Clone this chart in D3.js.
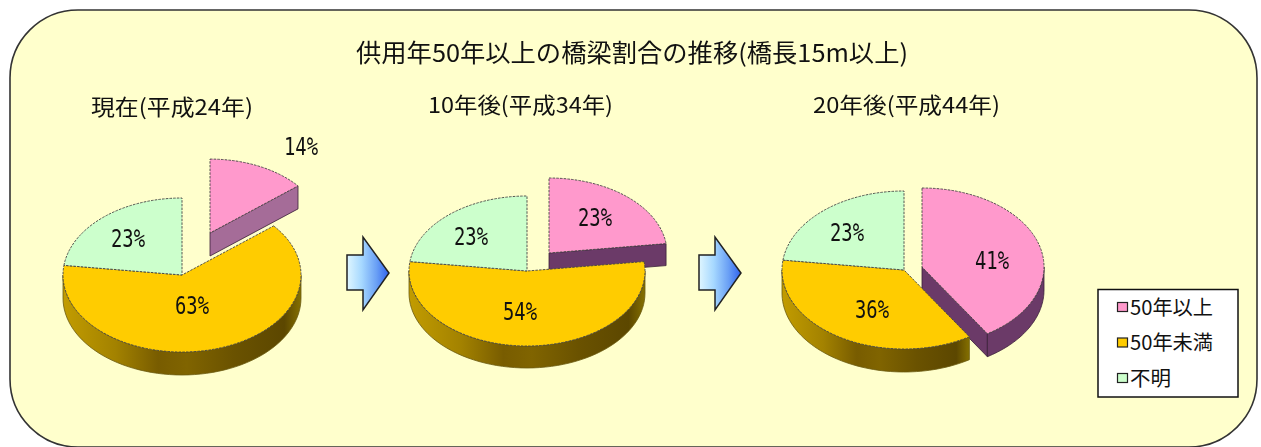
<!DOCTYPE html>
<html lang="ja">
<head>
<meta charset="utf-8">
<script src="https://cdn.jsdelivr.net/npm/d3@7"></script>
<style>
html,body{margin:0;padding:0;background:#fff;overflow:hidden}
svg{display:block;filter:blur(0.4px)}
text{font-family:"Noto Sans CJK JP","Noto Sans",sans-serif;fill:#111}
text.val{font-family:"DejaVu Sans Mono","Liberation Mono",monospace}
</style>
</head>
<body>
<svg id="chart" width="1261" height="447"></svg>
<script>
// ---- data ----
const chartTitle = "供用年50年以上の橋梁割合の推移(橋長15m以上)";
const categories = ["50年以上", "50年未満", "不明"];
const pieTitles = ["現在(平成24年)", "10年後(平成34年)", "20年後(平成44年)"];
const valuesNow = [14, 63, 23];
const values10 = [23, 54, 23];
const values20 = [41, 36, 23];
const allValues = [valuesNow, values10, values20];

// ---- layout / style (separate from data) ----
const W = 1261, H = 447;
const colors = d3.scaleOrdinal().domain(categories).range(["#ff99cc", "#ffcc00", "#ccffcc"]);
const pieLayouts = [
  {cx:182, cy:275, rx:119, ry:77, depth:23, ex:[28,-42], exScale:0.96, pinkSide:"#a56c98",
   title:{x:91, w:162, y:115},
   labels:[[301,146],[192,305],[128,238]]},
  {cx:527, cy:271, rx:118, ry:75, depth:22, ex:[22,-18], exScale:1, pinkSide:"#6b3a68",
   title:{x:428, w:185, y:113},
   labels:[[595,217],[520,311],[471,236]]},
  {cx:904, cy:270, rx:122, ry:79, depth:23, ex:[18,-3], exScale:1, pinkSide:"#6b3a68",
   title:{x:813, w:187, y:113},
   labels:[[992,260],[872,309],[847,232]]}
];
const arrowXs = [347, 699];

const svg = d3.select("#chart");
const defs = svg.append("defs");

const sideGrad = defs.append("linearGradient").attr("id","sideOrange");
[[0,"#c29c00"],[0.22,"#a38200"],[0.4,"#785c00"],[0.52,"#806400"],[0.72,"#6a5200"],[0.93,"#5c4700"],[1,"#857000"]]
  .forEach(([o,c]) => sideGrad.append("stop").attr("offset",o).attr("stop-color",c));
const arrowGrad = defs.append("linearGradient").attr("id","arrowFill");
[[0,"#dff6ff"],[0.35,"#a6d8ff"],[0.7,"#6aa0f5"],[1,"#2f62ee"]]
  .forEach(([o,c]) => arrowGrad.append("stop").attr("offset",o).attr("stop-color",c));

// panel
svg.append("rect").attr("x",10).attr("y",10).attr("width",1247).attr("height",437)
  .attr("rx",68).attr("ry",68).attr("fill","#ffffcc").attr("stroke","#333").attr("stroke-width",1.6);

svg.append("text").attr("x",356).attr("y",62).attr("font-size",24.5)
  .attr("textLength",552).attr("lengthAdjust","spacingAndGlyphs").text(chartTitle);

const pieGen = d3.pie().sort(null).value(d => d);

function drawPie(values, L, titleText){
  const g = svg.append("g");
  const arcs = pieGen(values);
  const arc = d3.arc().innerRadius(0);
  const order = [0,1,2]; // exploded slice sits behind the others

  order.forEach(i => {
    const a = arcs[i];
    const isEx = i === 0;
    const s = isEx ? L.exScale : 1;
    const rx = L.rx * s, ry = L.ry * s;
    const ox = L.cx + (isEx ? L.ex[0] : 0), oy = L.cy + (isEx ? L.ex[1] : 0);
    const px = t => ox + rx * Math.sin(t), py = t => oy - ry * Math.cos(t);
    const sideFill = isEx ? L.pinkSide : "url(#sideOrange)";

    // radial wall on the trailing edge of the exploded slice
    if (isEx) {
      const e = a.endAngle;
      const wall = [[ox,oy],[px(e),py(e)],[px(e),py(e)+L.depth],[ox,oy+L.depth]];
      g.append("path").attr("d", d3.line()(wall) + "Z")
        .attr("fill", L.pinkSide).attr("stroke", "#3a2038").attr("stroke-width",0.8);
    }
    // outer wall: only the front half of the ellipse shows
    const t0 = Math.max(a.startAngle, Math.PI/2), t1 = Math.min(a.endAngle, 3*Math.PI/2);
    if (t1 > t0 && i !== 2) {
      const ts = d3.range(0, 61).map(k => t0 + (t1-t0)*k/60);
      const area = d3.area().x(t => px(t)).y0(t => py(t)).y1(t => py(t)+L.depth);
      g.append("path").attr("d", area(ts)).attr("fill", sideFill)
        .attr("stroke", isEx ? "#3a2038" : "#6b5a10").attr("stroke-width",0.8);
    }
    // top face
    g.append("path")
      .attr("transform", `translate(${ox},${oy}) scale(1,${ry/rx})`)
      .attr("d", arc({startAngle:a.startAngle,endAngle:a.endAngle,outerRadius:rx}))
      .attr("fill", colors(categories[i]))
      .attr("stroke", "#444").attr("stroke-width",0.9)
      .attr("stroke-dasharray","2.5 1.2")
      .attr("vector-effect","non-scaling-stroke");
  });

  // value labels
  arcs.forEach((a,i) => {
    g.append("text").attr("class","val").attr("x",L.labels[i][0]).attr("y",L.labels[i][1]+9)
      .attr("text-anchor","middle").attr("font-size",24)
      .attr("textLength",34).attr("lengthAdjust","spacingAndGlyphs")
      .attr("fill", i === 1 ? "#3a2200" : "#111")
      .text(d3.format(".0%")(a.value/100));
  });
  g.append("text").attr("x",L.title.x).attr("y",L.title.y).attr("font-size",22)
    .attr("textLength",L.title.w).attr("lengthAdjust","spacingAndGlyphs").text(titleText);
}

allValues.forEach((v,i) => drawPie(v, pieLayouts[i], pieTitles[i]));

// block arrows
arrowXs.forEach(x => {
  const shape = [[0,18],[16,18],[16,0],[42,36],[16,73],[16,53],[0,53]];
  svg.append("path").attr("transform",`translate(${x},237)`)
    .attr("d", d3.line()(shape)+"Z").attr("fill","url(#arrowFill)")
    .attr("stroke","#222").attr("stroke-width",1.5).attr("stroke-linejoin","miter");
});

// legend
const legend = svg.append("g");
legend.append("rect").attr("x",1098).attr("y",289.5).attr("width",140).attr("height",107.5)
  .attr("fill","#fff").attr("stroke","#111").attr("stroke-width",1.5);
const legendY = d3.scalePoint().domain(categories).range([307,378]);
const legendW = {"50年以上":83,"50年未満":83,"不明":41};
categories.forEach(c => {
  legend.append("rect").attr("x",1117.5).attr("y",legendY(c)-4.5).attr("width",10).attr("height",9)
    .attr("fill",colors(c)).attr("stroke","#222").attr("stroke-width",1.2);
  legend.append("text").attr("x",1130).attr("y",legendY(c)+7.5).attr("font-size",20)
    .attr("textLength",legendW[c]).attr("lengthAdjust","spacingAndGlyphs").text(c);
});
</script>
</body>
</html>
